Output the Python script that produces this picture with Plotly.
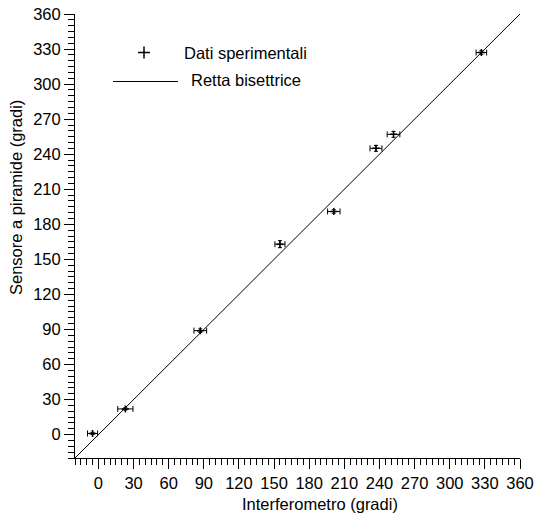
import plotly.graph_objects as go

# Data
interferometro = [-5, 23, 87, 155, 201, 237, 252, 327]
sensore = [1, 22, 89, 163, 191, 245, 257, 327]
err_x = [4.3, 6.5, 5.4, 4.3, 5.3, 5.1, 5.4, 4.5]
err_y = [1, 1, 1.5, 3, 1.5, 2.5, 2.5, 1.5]
bisettrice = [-20, 360]
tick_vals = list(range(0, 361, 30))
tick_text = [str(v) for v in tick_vals]

FONT = "Liberation Sans, Arial, sans-serif"
FS = 16.5

fig = go.Figure()
fig.add_trace(go.Scatter(
    x=bisettrice, y=bisettrice, mode="lines",
    line=dict(color="black", width=1), name="Retta bisettrice",
    showlegend=False,
))
fig.add_trace(go.Scatter(
    x=interferometro, y=sensore, mode="markers",
    marker=dict(symbol="cross-thin", size=5, color="black",
                line=dict(color="black", width=1.5)),
    error_x=dict(type="data", array=err_x, color="black", thickness=1, width=3),
    error_y=dict(type="data", array=err_y, color="black", thickness=1, width=2),
    name="Dati sperimentali", showlegend=False,
))

axis_common = dict(
    range=[-20, 360], tickmode="array", tickvals=tick_vals, ticktext=tick_text,
    ticks="outside", ticklen=10, tickwidth=1, tickcolor="black",
    showline=True, linecolor="black", linewidth=1,
    showgrid=False, zeroline=False, automargin=False,
    minor=dict(dtick=5, tick0=0, ticks="outside", ticklen=6, tickwidth=1,
               tickcolor="black", showgrid=False),
    tickfont=dict(family=FONT, size=FS, color="black"),
)

fig.update_layout(
    width=536, height=516,
    margin=dict(l=75, r=16, t=14, b=58),
    plot_bgcolor="white", paper_bgcolor="white",
    xaxis=dict(**axis_common),
    yaxis=dict(**axis_common),
    showlegend=False,
)

# Pixel -> paper helpers for text/legend placement
W, H = 536 - 75 - 16, 516 - 14 - 58
def px(xp):
    return (xp - 75) / W
def py(yp):
    return 1 - (yp - 14) / H

# Axis titles
fig.add_annotation(xref="paper", yref="paper", x=px(320), y=py(504),
                   text="Interferometro (gradi)", showarrow=False,
                   xanchor="center", yanchor="middle",
                   font=dict(family=FONT, size=FS, color="black"))
fig.add_annotation(xref="paper", yref="paper", x=px(16), y=py(198),
                   text="Sensore a piramide (gradi)", showarrow=False,
                   textangle=-90, xanchor="center", yanchor="middle",
                   font=dict(family=FONT, size=FS, color="black"))

# Custom legend
fig.add_shape(type="line", xref="paper", yref="paper",
              x0=px(138), x1=px(150), y0=py(52.5), y1=py(52.5),
              line=dict(color="black", width=1.5))
fig.add_shape(type="line", xref="paper", yref="paper",
              x0=px(144), x1=px(144), y0=py(46.5), y1=py(58.5),
              line=dict(color="black", width=1.5))
fig.add_shape(type="line", xref="paper", yref="paper",
              x0=px(113), x1=px(178), y0=py(81.5), y1=py(81.5),
              line=dict(color="black", width=1))
fig.add_annotation(xref="paper", yref="paper", x=px(182), y=py(53),
                   text="Dati sperimentali", showarrow=False,
                   xanchor="left", yanchor="middle",
                   font=dict(family=FONT, size=FS, color="black"))
fig.add_annotation(xref="paper", yref="paper", x=px(189), y=py(80),
                   text="Retta bisettrice", showarrow=False,
                   xanchor="left", yanchor="middle",
                   font=dict(family=FONT, size=FS, color="black"))

fig.write_html(
    "out.html",
    config={"displayModeBar": False},
    post_script="document.body.style.margin='0';document.body.style.overflow='hidden';",
)
